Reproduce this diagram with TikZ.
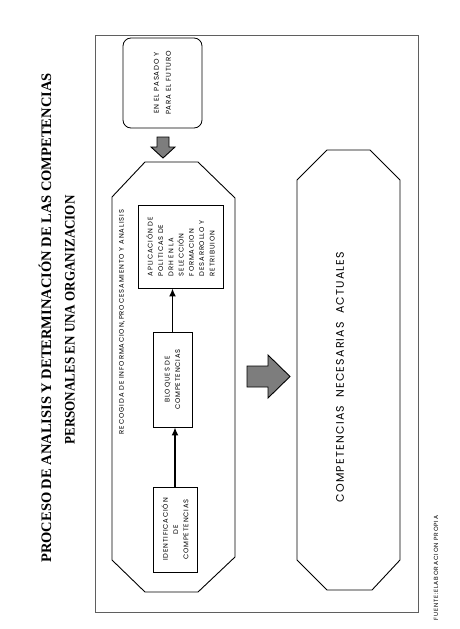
\documentclass[tikz,border=0pt]{standalone}
\usepackage{fontspec}
\setmainfont{Liberation Serif}
\newfontfamily\gothfont{Poppins}
\usetikzlibrary{arrows.meta}
\definecolor{scangrey}{RGB}{125,125,125}
\definecolor{framegrey}{RGB}{95,95,95}

\tikzset{
  caja/.style={draw, rotate=90, align=center, line width=0.8pt,
    font=\gothfont\addfontfeature{LetterSpace=12}\fontsize{6.8}{10.3}\selectfont,
    inner sep=2pt},
  flujo/.style={-{Latex[length=8pt,width=7pt]}, line width=1.5pt},
  bloque/.style={fill=scangrey, draw=black, line width=0.9pt},
}

\begin{document}
\begin{tikzpicture}[x=1pt, y=-1pt, line width=0.9pt]
        \useasboundingbox (0,0) rectangle (459,629);

        % titulo
        \node[rotate=90, font=\bfseries\fontsize{14.5}{14.5}\selectfont]
          (titulo1) at (45,318) {PROCESO DE ANALISIS Y DETERMINACIÓN DE LAS COMPETENCIAS};
        \node[rotate=90, font=\bfseries\fontsize{14.5}{14.5}\selectfont]
          (titulo2) at (70,320) {\scalebox{0.9}[1]{PERSONALES EN UNA ORGANIZACION}};

        % marco
        \draw[framegrey] (95,35) rectangle (418,612);

        % octogono de la izquierda
        \coordinate (L1) at (112,197);
        \coordinate (L2) at (145,162);
        \coordinate (L3) at (198,162);
        \coordinate (L4) at (235,198);
        \coordinate (L5) at (235,557);
        \coordinate (L6) at (198,592);
        \coordinate (L7) at (145,592);
        \coordinate (L8) at (112,560);

        % octogono de la derecha
        \coordinate (R1) at (297,180);
        \coordinate (R2) at (327,150);
        \coordinate (R3) at (370,150);
        \coordinate (R4) at (400,180);
        \coordinate (R5) at (400,560);
        \coordinate (R6) at (372,590);
        \coordinate (R7) at (327,590);
        \coordinate (R8) at (297,560);

        \draw (L1)--(L2)--(L3)--(L4)--(L5)--(L6)--(L7)--(L8)--cycle;
        \draw (R1)--(R2)--(R3)--(R4)--(R5)--(R6)--(R7)--(R8)--cycle;

        \node[rotate=90, font=\gothfont\addfontfeature{LetterSpace=13}\fontsize{6.8}{6.8}\selectfont]
          (recogida) at (122,322) {RECOGIDA DE INFORMACION,PROCESAMIENTO Y ANALISIS};

        \node[caja, rounded corners=8pt, minimum width=90pt, minimum height=79pt,
          font=\gothfont\addfontfeature{LetterSpace=12}\fontsize{7}{12}\selectfont]
          (pasado) at (162.5,83) {EN EL PASADO Y\\PARA EL FUTURO};

        \filldraw[bloque] (157,137)--(169,137)--(169,147)--(175,147)
          --(163,158)--(151,147)--(157,147)--cycle;

        \node[caja, minimum width=85pt, minimum height=44pt]
          (ident) at (175,529.5) {IDENTIFICACIÓN\\DE\\COMPETENCIAS};
        \node[caja, minimum width=95pt, minimum height=39pt]
          (bloques) at (172.5,379.5) {BLOQUES DE\\COMPETENCIAS};
        \node[caja, align=left, minimum width=83pt, minimum height=85pt]
          (aplica) at (180.5,246.5) {APLICACIÓN DE\\POLITICAS DE\\DRH EN LA\\SELECCIÓN\\FORMACION\\DESARROLLO Y\\RETRIBUION};

        \draw[flujo] (ident.east) -- (ident.east |- bloques.west);
        \draw[flujo] (bloques.east) -- (bloques.east |- aplica.west);

        \filldraw[bloque] (247,366)--(268,366)--(268,355)--(290,376.5)
          --(268,398)--(268,387)--(247,387)--cycle;

        \node[rotate=90, font=\gothfont\addfontfeature{LetterSpace=11}\fontsize{11}{11}\selectfont]
          (actuales) at (340,377) {COMPETENCIAS\ \ NECESARIAS\ \ ACTUALES};

        \node[rotate=90, font=\gothfont\addfontfeature{LetterSpace=14}\fontsize{6}{6}\selectfont]
          (fuente) at (436,568) {FUENTE:ELABORACION PROPIA};
      \end{tikzpicture}
\end{document}
